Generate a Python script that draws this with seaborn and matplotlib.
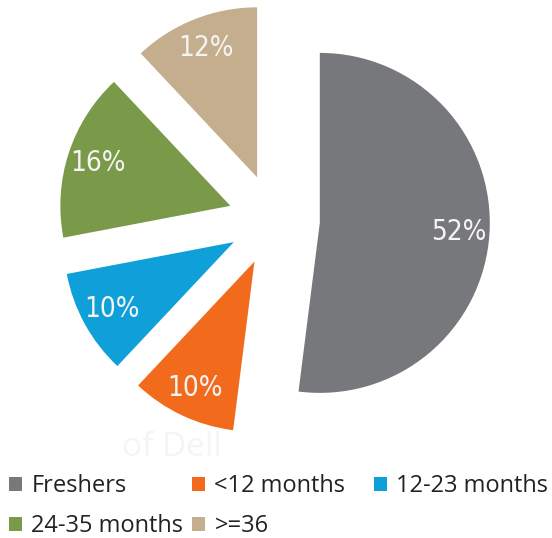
import matplotlib
matplotlib.use("Agg")
import matplotlib.pyplot as plt
from matplotlib.patches import Patch
from matplotlib import font_manager
import seaborn as sns

categories = ["Freshers", "<12 months", "12-23 months", "24-35 months", ">=36"]
values = [52, 10, 10, 16, 12]
colors_hex = ["#77787c", "#f26b1d", "#0fa0d9", "#7a9a4a", "#c4ae8d"]

sns.set_style("white")
palette = sns.color_palette(colors_hex)

# pick a condensed font for the percentage labels if one is installed
label_fp = None
for f in font_manager.fontManager.ttflist:
    nm = f.fname.lower()
    if ("condensed" in nm or "narrow" in nm) and "bold" not in nm and "oblique" not in nm \
            and "italic" not in nm and "light" not in nm and "mono" not in nm and "serif" not in nm.replace("sans", ""):
        label_fp = f.fname
        break
if label_fp is not None:
    label_props = dict(fontproperties=font_manager.FontProperties(fname=label_fp, size=20))
else:
    label_props = dict(family="Liberation Sans", fontsize=19)

avail = {f.name for f in font_manager.fontManager.ttflist}
legend_font = "Open Sans" if "Open Sans" in avail else "DejaVu Sans"

W, H = 552, 538
fig = plt.figure(figsize=(W / 100, H / 100), dpi=100)
ax = fig.add_axes([0, 0, 1, 1])

R = 170.0  # pixels per data unit
cx, cy = 274.0, 220.0

wedges, texts, autotexts = ax.pie(
    values,
    colors=palette,
    startangle=90,
    counterclock=False,
    explode=[0.27] * len(values),
    autopct=lambda p: f"{p:.0f}%",
    pctdistance=0.82,
    wedgeprops=dict(linewidth=0),
)
for t in autotexts:
    t.set_color("#f4f4f4")
    if "fontproperties" in label_props:
        t.set_fontproperties(label_props["fontproperties"])
    else:
        t.set_family(label_props["family"])
        t.set_fontsize(label_props["fontsize"])

ax.set_aspect("auto")
ax.set_xlim(-cx / R, (W - cx) / R)
ax.set_ylim(-(H - cy) / R, cy / R)
ax.axis("off")

# faint watermark
fig.text(122 / W, 1 - 448 / H, "of Dell", fontsize=24, color="#f5f5f5",
         family=legend_font, ha="left", va="center", zorder=0)

handles = [Patch(facecolor=c, edgecolor="none") for c in palette]
cols = [([0, 3], 9), ([1, 4], 192), ([2], 374)]
for idx, x in cols:
    leg = fig.legend(
        [handles[i] for i in idx],
        [categories[i] for i in idx],
        loc="upper left",
        bbox_to_anchor=(x / W, 1 - 474 / H),
        frameon=False,
        borderpad=0,
        borderaxespad=0,
        handlelength=0.55,
        handleheight=0.55,
        handletextpad=0.4,
        labelspacing=0.68,
        prop=dict(family=legend_font, size=17),
    )
    for t in leg.get_texts():
        t.set_color("#222222")

fig.savefig("out.png", dpi=100)
